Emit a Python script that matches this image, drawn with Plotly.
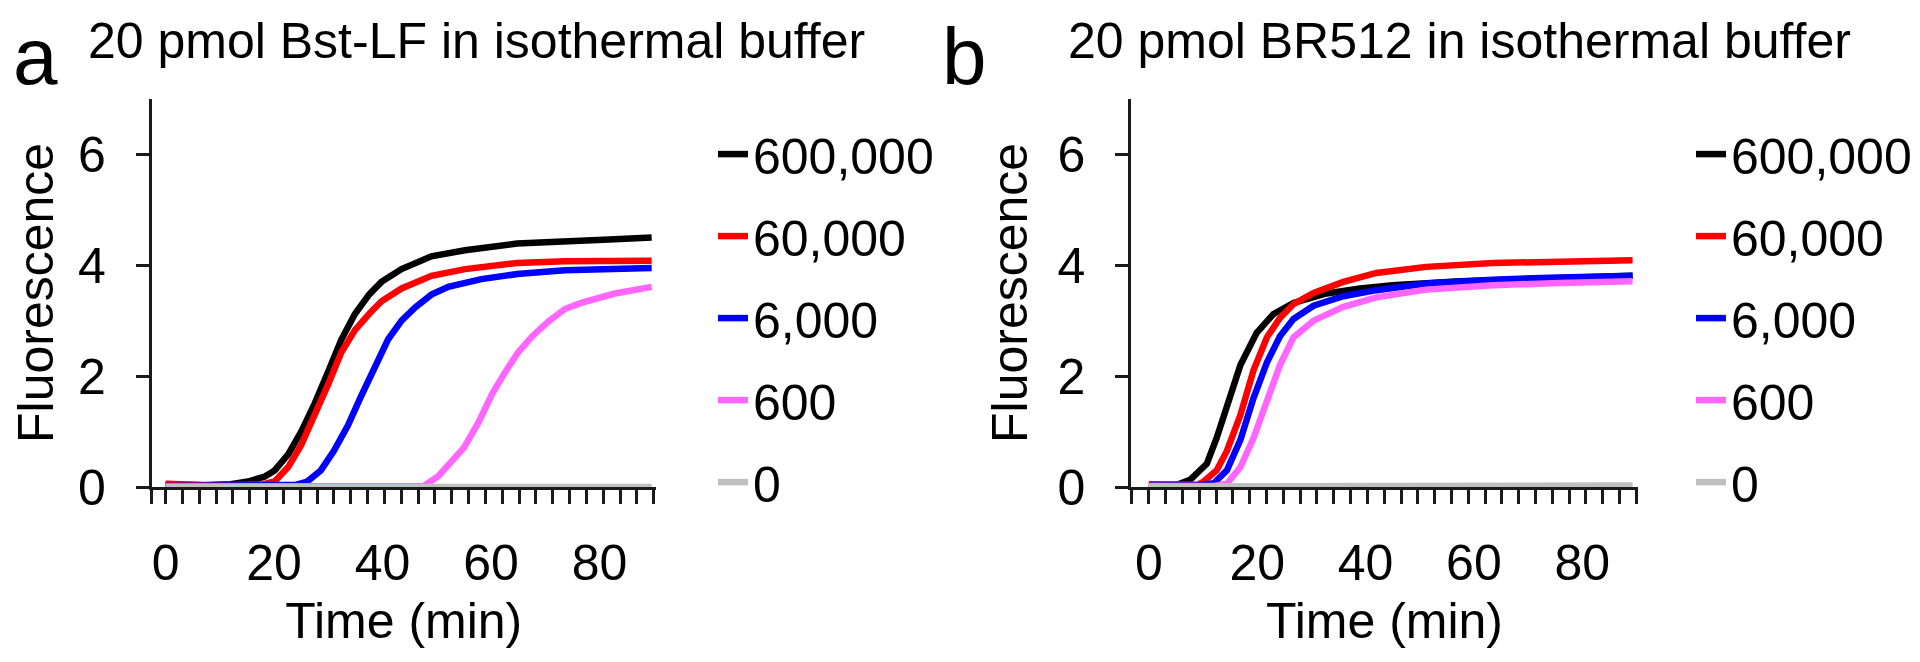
import plotly.graph_objects as go

# ---------------- data ----------------
series_names = ["600,000", "60,000", "6,000", "600", "0"]
series_colors = ["#000000", "#FF0000", "#0000FF", "#FF66FF", "#BFBFBF"]

# Panel a : 20 pmol Bst-LF
a_black_t = [0, 3, 6, 9, 12, 15.2, 18.3, 20.1, 22.6, 25, 27.5, 30, 32.4, 34.9, 37.5, 39.8, 43.5, 49, 55.2, 64.8, 73.6, 82.8, 89.6]
a_black_y = [0.04, 0.03, 0.03, 0.04, 0.05, 0.1, 0.19, 0.3, 0.59, 1.0, 1.51, 2.09, 2.66, 3.12, 3.47, 3.70, 3.93, 4.16, 4.27, 4.39, 4.44, 4.47, 4.50]
a_red_t = [0, 3, 6, 9, 12, 15, 18, 20.1, 22.6, 25, 27.5, 30, 32.4, 34.9, 37.5, 39.8, 43.5, 49, 55.2, 64.8, 73.6, 89.6]
a_red_y = [0.06, 0.04, 0.04, 0.03, 0.03, 0.04, 0.05, 0.1, 0.36, 0.76, 1.28, 1.86, 2.43, 2.83, 3.12, 3.35, 3.58, 3.81, 3.93, 4.04, 4.07, 4.08]
a_blue_t = [0, 3, 6, 9, 12, 15, 18, 21, 24, 26.1, 28.6, 31, 33.6, 36, 38.6, 41, 43.5, 46, 49, 52.1, 58.2, 64.8, 73.6, 89.6]
a_blue_y = [0.02, 0.02, 0.02, 0.02, 0.02, 0.02, 0.02, 0.02, 0.04, 0.1, 0.3, 0.65, 1.11, 1.63, 2.14, 2.66, 3.0, 3.24, 3.47, 3.61, 3.75, 3.84, 3.91, 3.95]
a_pink_t = [0, 6, 12, 18, 24, 30, 36, 42, 47.6, 50.2, 52.5, 55, 57.7, 60.2, 62.7, 65, 67.6, 70.5, 73.6, 76.6, 82.8, 89.6]
a_pink_y = [0.01, 0.01, 0.01, 0.01, 0.01, 0.01, 0.01, 0.01, 0.02, 0.19, 0.42, 0.71, 1.17, 1.68, 2.09, 2.43, 2.72, 2.98, 3.21, 3.32, 3.49, 3.61]
a_gray_t = [0, 10, 20, 30, 40, 50, 60, 70, 80, 89.6]
a_gray_y = [0.0, 0.0, 0.0, 0.0, 0.0, 0.0, 0.0, 0.0, 0.0, 0.0]

# Panel b : 20 pmol BR512
b_black_t = [0, 3, 5.2, 7.6, 10.7, 12.5, 14.4, 16.9, 19.9, 23, 26.7, 32.8, 39, 45, 57.4, 69.7, 89.3]
b_black_y = [0.04, 0.03, 0.04, 0.13, 0.42, 0.88, 1.45, 2.2, 2.78, 3.12, 3.32, 3.49, 3.58, 3.64, 3.71, 3.75, 3.81]
b_red_t = [0, 3, 6, 9, 10.1, 12.5, 14.4, 16.9, 19.3, 21.8, 24.2, 26.7, 30.4, 35.9, 42, 51.2, 63.5, 75.8, 89.3]
b_red_y = [0.05, 0.04, 0.03, 0.04, 0.1, 0.3, 0.65, 1.3, 2.1, 2.7, 3.05, 3.3, 3.5, 3.7, 3.86, 3.97, 4.04, 4.07, 4.09]
b_blue_t = [0, 3, 6, 9, 12, 14.4, 16.9, 19.3, 21.8, 24.2, 26.7, 30.4, 35.9, 42, 51.2, 63.5, 75.8, 89.3]
b_blue_y = [0.03, 0.03, 0.03, 0.03, 0.07, 0.3, 0.85, 1.6, 2.25, 2.72, 3.03, 3.27, 3.44, 3.55, 3.67, 3.74, 3.78, 3.81]
b_pink_t = [0, 3, 6, 9, 12, 14.4, 16.9, 19.3, 21.8, 24.2, 26.7, 30.4, 35.9, 42, 51.2, 63.5, 75.8, 89.3]
b_pink_y = [0.02, 0.02, 0.02, 0.02, 0.02, 0.06, 0.36, 0.88, 1.6, 2.2, 2.7, 3.0, 3.25, 3.42, 3.56, 3.64, 3.68, 3.71]
b_gray_t = [0, 10, 20, 30, 40, 50, 60, 70, 80, 89.3]
b_gray_y = [0.01, 0.01, 0.01, 0.01, 0.01, 0.01, 0.01, 0.01, 0.02, 0.03]

x_tick_labels = [0, 20, 40, 60, 80]
y_tick_labels = [0, 2, 4, 6]

panel_a_title = "20 pmol Bst-LF in isothermal buffer"
panel_b_title = "20 pmol BR512 in isothermal buffer"

# ---------------- figure ----------------
W, H = 1920, 662
FONT = "Liberation Sans, Arial, sans-serif"
FS = 50
AXC = "#1a1a1a"

fig = go.Figure()

a_series = [(a_black_t, a_black_y), (a_red_t, a_red_y), (a_blue_t, a_blue_y), (a_pink_t, a_pink_y), (a_gray_t, a_gray_y)]
b_series = [(b_black_t, b_black_y), (b_red_t, b_red_y), (b_blue_t, b_blue_y), (b_pink_t, b_pink_y), (b_gray_t, b_gray_y)]

for i, (t, y) in enumerate(a_series):
    fig.add_trace(go.Scatter(x=t, y=y, mode="lines", name=series_names[i],
                             line=dict(color=series_colors[i], width=6.5),
                             xaxis="x", yaxis="y", legend="legend",
                             legendgroup="a%d" % i))
for i, (t, y) in enumerate(b_series):
    fig.add_trace(go.Scatter(x=t, y=y, mode="lines", name=series_names[i],
                             line=dict(color=series_colors[i], width=6.5),
                             xaxis="x3", yaxis="y2", legend="legend2",
                             legendgroup="b%d" % i))
# anchor traces for the label axes
fig.add_trace(go.Scatter(x=[], y=[], xaxis="x2", yaxis="y", showlegend=False, hoverinfo="skip"))
fig.add_trace(go.Scatter(x=[], y=[], xaxis="x4", yaxis="y2", showlegend=False, hoverinfo="skip"))

def px_x(p):
    return p / W

def px_y(p):
    return 1 - p / H

ydom = [px_y(501), px_y(95)]
a_dom = [px_x(143.5), px_x(648)]
b_dom = [px_x(1123), px_x(1630)]
a_rng = [-2.6, 90.4]
b_rng = [-3.3, 90.3]
minor_step = 90 / 29

def tick_axis(dom, rng, anchor):
    vals = [rng[0]] + [k * minor_step for k in range(30)]
    return dict(domain=dom, range=rng, anchor=anchor, showline=True, linecolor=AXC, linewidth=2.5,
                ticks="outside", tickmode="array", tickvals=vals, ticklen=14, tickwidth=2.5, tickcolor=AXC,
                showticklabels=False, showgrid=False, zeroline=False, fixedrange=True)

def label_axis(dom, rng, anchor, over):
    return dict(domain=dom, range=rng, anchor=anchor, overlaying=over, side="bottom",
                tickmode="array", tickvals=x_tick_labels, ticktext=[str(v) for v in x_tick_labels],
                ticks="", showline=False, showgrid=False, zeroline=False,
                tickfont=dict(size=FS, color="black", family=FONT), ticklabelstandoff=42,
                title=dict(text="Time (min)", font=dict(size=FS, color="black", family=FONT), standoff=12))

def y_axis(anchor):
    return dict(domain=ydom, range=[0, 7], anchor=anchor, showline=True, linecolor=AXC, linewidth=2.5,
                tickmode="array", tickvals=y_tick_labels, ticks="outside", ticklen=13, tickwidth=2.5,
                tickcolor=AXC, showgrid=False, zeroline=False, ticklabelstandoff=20,
                tickfont=dict(size=FS, color="black", family=FONT),
                title=dict(text="Fluorescence", font=dict(size=FS, color="black", family=FONT), standoff=14))

legend_common = dict(font=dict(size=FS, color="black", family=FONT), bgcolor="rgba(0,0,0,0)",
                     borderwidth=0, yanchor="top", xanchor="left", tracegroupgap=14,
                     itemwidth=30, traceorder="grouped")

fig.update_layout(
    width=W, height=H,
    margin=dict(l=0, r=0, t=0, b=0),
    paper_bgcolor="white", plot_bgcolor="white",
    font=dict(family=FONT, color="black", size=FS),
    xaxis=tick_axis(a_dom, a_rng, "y"),
    xaxis2=label_axis(a_dom, a_rng, "y", "x"),
    xaxis3=tick_axis(b_dom, b_rng, "y2"),
    xaxis4=label_axis(b_dom, b_rng, "y2", "x3"),
    yaxis=y_axis("x"),
    yaxis2=y_axis("x3"),
    legend=dict(x=px_x(705), y=px_y(112), **legend_common),
    legend2=dict(x=px_x(1683), y=px_y(112), **legend_common),
    annotations=[
        dict(text="a", x=px_x(3), y=px_y(6), xref="paper", yref="paper", xanchor="left", yanchor="top",
             height=80, valign="middle",
             showarrow=False, font=dict(size=80, color="black", family=FONT)),
        dict(text=panel_a_title, x=px_x(78), y=px_y(35), xref="paper", yref="paper", xanchor="left",
             yanchor="middle", showarrow=False, font=dict(size=FS, color="black", family=FONT)),
        dict(text="b", x=px_x(932), y=px_y(6), xref="paper", yref="paper", xanchor="left", yanchor="top",
             height=80, valign="middle",
             showarrow=False, font=dict(size=80, color="black", family=FONT)),
        dict(text=panel_b_title, x=px_x(1058), y=px_y(35), xref="paper", yref="paper", xanchor="left",
             yanchor="middle", showarrow=False, font=dict(size=FS, color="black", family=FONT)),
    ],
)

fig.write_html("out.html")
